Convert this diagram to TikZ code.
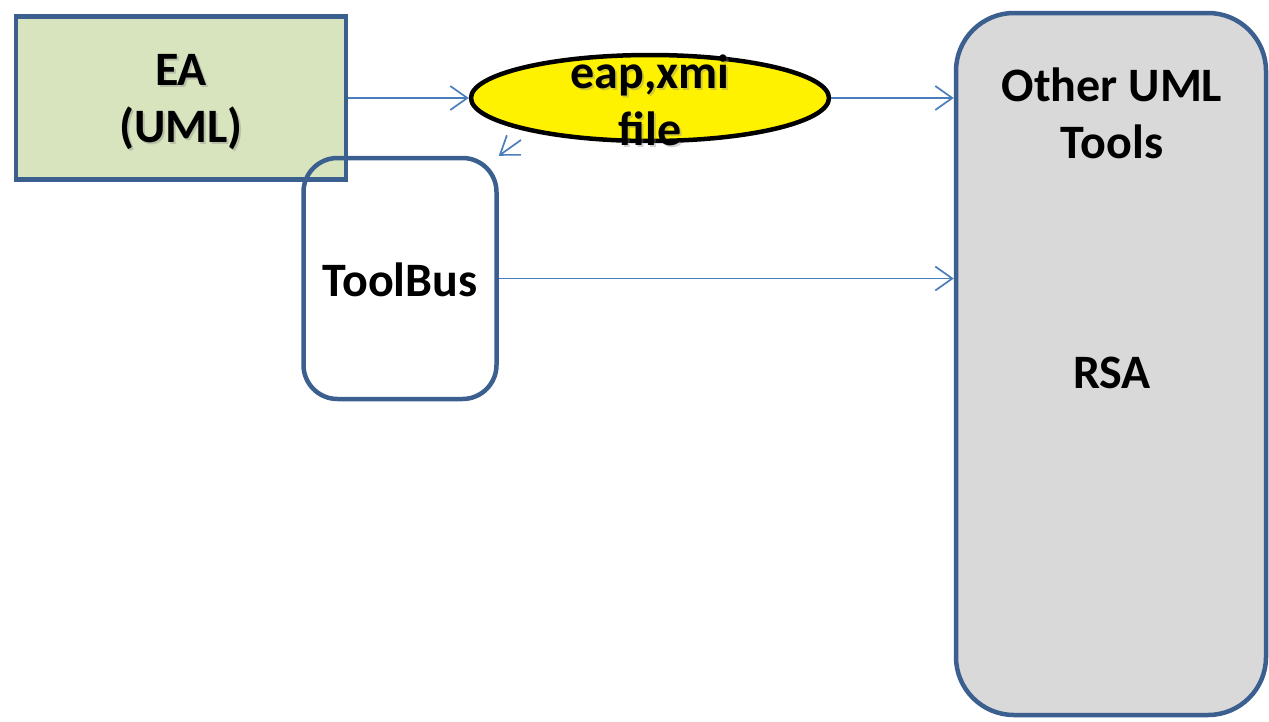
\documentclass[tikz,border=0pt]{standalone}
\usepackage{fontspec}
\setmainfont{Carlito}
\usetikzlibrary{arrows.meta,shapes.geometric}
\definecolor{bordblue}{HTML}{3B5F8E}
\definecolor{arrblue}{HTML}{4A7EBB}
\definecolor{eagreen}{HTML}{D7E4BD}
\definecolor{toolgray}{HTML}{D9D9D9}
\tikzset{
  boxline/.style={draw=bordblue, line width=4.5pt},
  lbl/.style={font=\fontsize{48}{57}\selectfont\bfseries, align=center, inner sep=0pt},
  shadowlbl/.style={lbl, text=black!50, opacity=0.35},
  conn/.style={draw=arrblue, line width=1.7pt, -{Straight Barb[length=17pt,width=24pt,line width=1.7pt]}},
}
\begin{document}
\begin{tikzpicture}[x=1pt,y=-1pt]
\useasboundingbox (0,0) rectangle (1269,721);
% Other UML Tools
\node[boxline, fill=toolgray, rounded corners=58pt, minimum width=310pt, minimum height=702pt, inner sep=0pt] (other) at (1111,364) {};
\node[lbl] (othertxt) at (1112,113) {Other UML\\Tools};
\node[lbl] (rsa) at (1112,373) {RSA};
% EA
\node[boxline, fill=eagreen, minimum width=330pt, minimum height=163pt, inner sep=0pt] (ea) at (181,98) {};
\node[shadowlbl] (eash) at (183,104) {EA\\(UML)};
\node[lbl] (eatxt) at (181,102) {EA\\(UML)};
% ToolBus
\node[boxline, rounded corners=34pt, minimum width=193pt, minimum height=241pt, inner sep=0pt] (tb) at (400,278.5) {};
\node[lbl] (tbtxt) at (400,280) {ToolBus};
% Ellipse
\node[ellipse, draw=black, line width=4.5pt, fill=yellow, minimum width=358pt, minimum height=86pt, inner sep=0pt] (file) at (650,98) {};
\node[shadowlbl] (filesh) at (652,102) {eap,xmi\\file};
\node[lbl] (filetxt) at (650,100) {eap,xmi\\file};
% connectors
\coordinate (eaout) at (ea.east |- file.west);
\coordinate (fstart) at (521,140);
\draw[conn] (eaout) -- (file.west);
\draw[conn] (file.east) -- (other.west |- file.east);
\draw[conn] (tb.east) -- (other.west |- tb.east);
\draw[conn] (fstart) -- (tb.north east);
\end{tikzpicture}
\end{document}
